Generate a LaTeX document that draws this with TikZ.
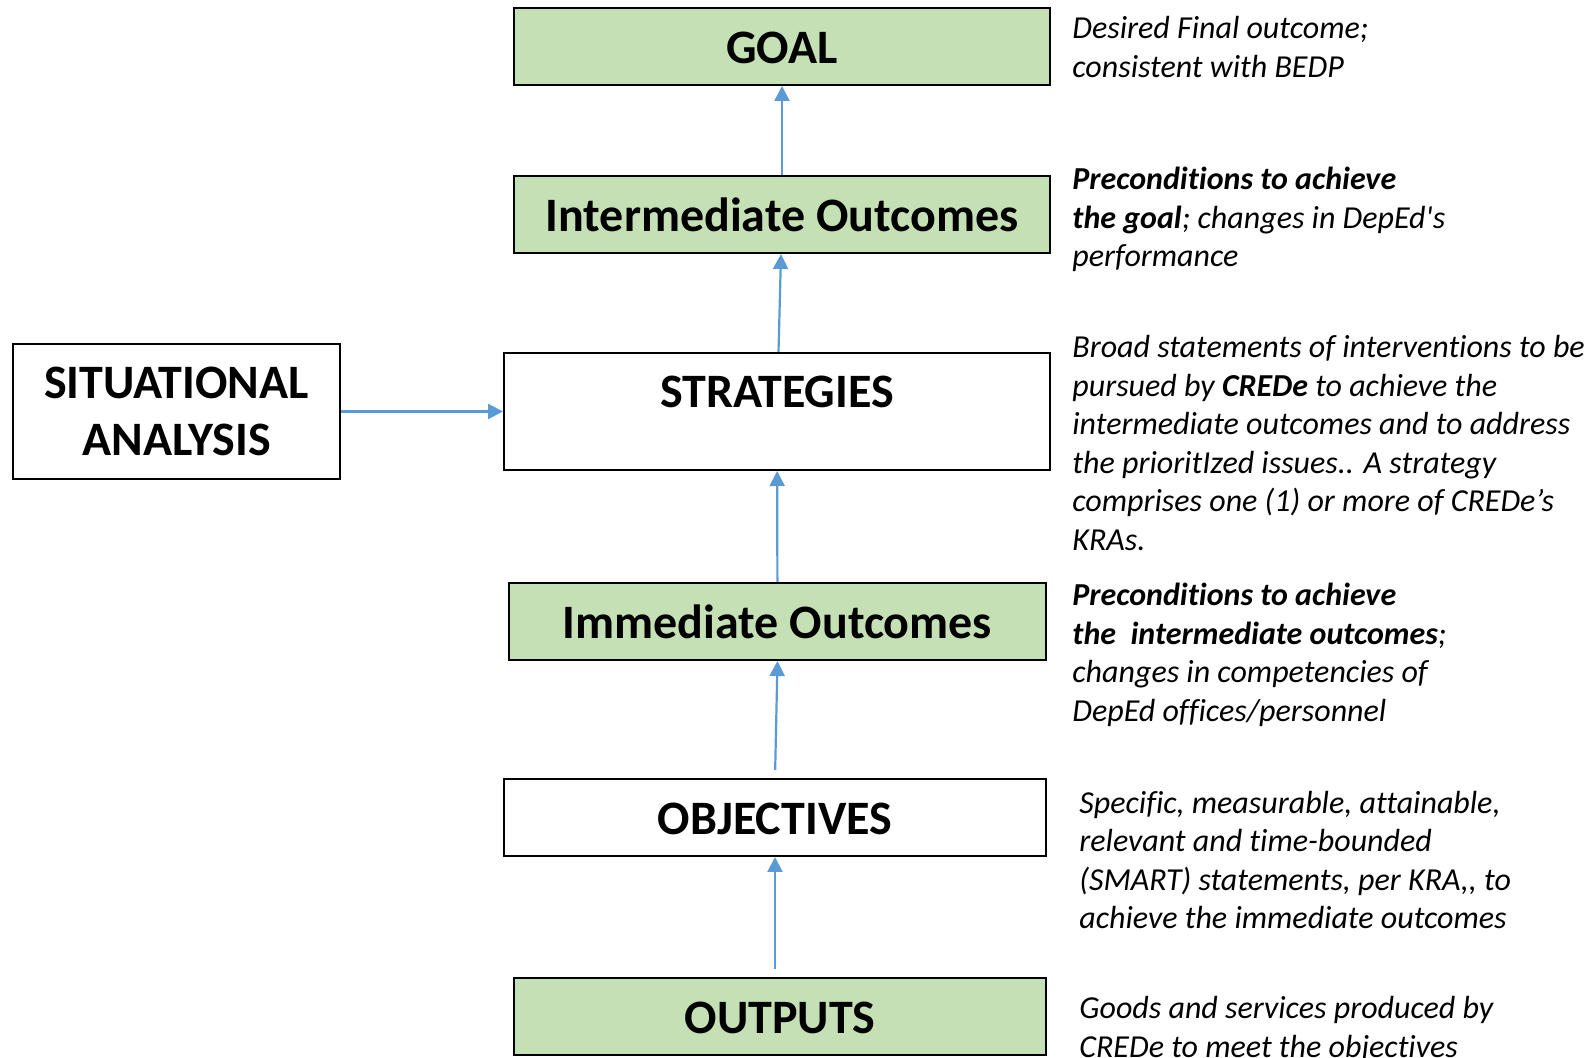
\documentclass[tikz,border=0pt]{standalone}
\usepackage{fontspec}
\setmainfont{Carlito}[Ligatures=NoCommon]
\usetikzlibrary{arrows.meta}

\definecolor{boxgreen}{HTML}{C5E0B4}
\definecolor{flowblue}{HTML}{5B9BD5}

\tikzset{
  stage/.style={draw, line width=1pt, inner sep=0pt, minimum height=38.5pt,
    text height=17.4pt, text depth=0pt,
    font=\bfseries\fontsize{24}{28.75}\selectfont},
  greenstage/.style={stage, fill=boxgreen},
  flow/.style={draw=flowblue, line width=1.1pt, -{Triangle[length=7.5pt,width=7.5pt]}},
  note/.style={anchor=north west, align=left, inner sep=0pt,
    font=\itshape\fontsize{16}{19.25}\selectfont}
}

\begin{document}
\begin{tikzpicture}[x=0.5pt,y=-0.5pt]
  \useasboundingbox (0,0) rectangle (1587,1058);

  % Stage boxes
  \node[greenstage, minimum width=268pt] (goal) at (782,46.5) {GOAL};
  \node[greenstage, minimum width=268pt] (inter) at (782,214.5) {Intermediate Outcomes};
  \node[stage, minimum width=273pt, text height=27.5pt, text depth=31pt] (strat) at (777,411.5) {STRATEGIES};
  \node[stage, minimum width=163.5pt, minimum height=67.5pt, align=center, text height=, text depth=] (sit) at (176.5,411.5) {SITUATIONAL\\ANALYSIS};
  \node[greenstage, minimum width=268.5pt] (imm) at (777.5,621.5) {Immediate Outcomes};
  \node[stage, minimum width=271pt] (obj) at (775,817.5) {OBJECTIVES};
  \node[greenstage, minimum width=266pt] (outp) at (780,1016.5) {OUTPUTS};

  % Arrows
  \draw[flow] (inter) -- (goal);
  \draw[flow] (strat) -- (inter);
  \draw[flow] (imm) -- (strat);
  \draw[flow, shorten <=4pt] (obj.north) -- (imm.south);
  \draw[flow, shorten <=4pt] (obj.south |- outp.north) -- (obj.south);
  \draw[flow] (sit) -- (strat);

  % Notes
  \node[note] (goalnote) at (1072,16) {Desired Final outcome;\\consistent with BEDP};
  \node[note] (internote) at (1072,167) {\textbf{Preconditions to achieve}\\\textbf{the goal}; changes in DepEd\textquotesingle s\\performance};
  \node[note] (stratnote) at (1072,335) {Broad statements of interventions to be\\pursued by \textbf{CREDe} to achieve the\\intermediate outcomes and to address\\the prioritIzed issues.. A strategy\\comprises one (1) or more of CREDe’s\\KRAs.};
  \node[note] (immnote) at (1072,583) {\textbf{Preconditions to achieve}\\\textbf{the\ \ intermediate outcomes};\\changes in competencies of\\DepEd offices/personnel};
  \node[note] (objnote) at (1079,790.5) {Specific, measurable, attainable,\\relevant and time-bounded\\(SMART) statements, per KRA{,}{,} to\\achieve the immediate outcomes};
  \node[note] (outpnote) at (1079,996) {Goods and services produced by\\CREDe to meet the objectives};
\end{tikzpicture}
\end{document}
